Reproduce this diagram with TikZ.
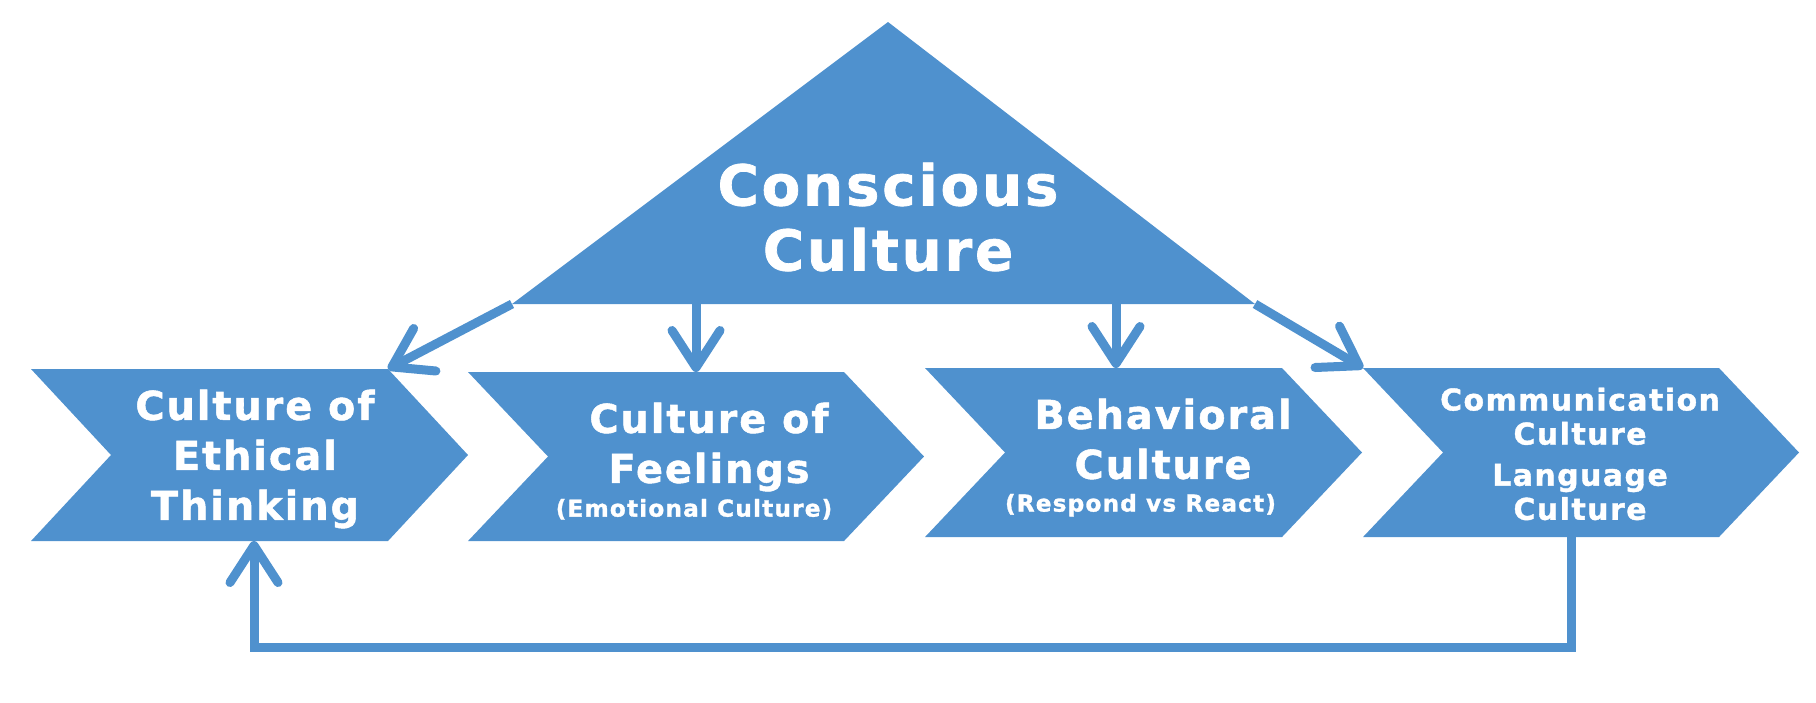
\documentclass[tikz,border=0pt]{standalone}
\usepackage{fontspec}
\newfontfamily\chevfont{DejaVu Sans}[LetterSpace=5,BoldFeatures={FakeBold=1.3}]
\usetikzlibrary{arrows.meta}
\definecolor{steel}{RGB}{79,145,206}

\begin{document}
\begin{tikzpicture}[x=0.01cm,y=-0.01cm,
  chev/.style={fill=steel},
  link/.style={draw=steel,line width=0.09cm},
  arr/.style={-{Straight Barb[round,length=0.37cm,width=0.48cm]}},
  txt/.style={text=white,inner sep=0,align=center,anchor=north},
  big/.style={font=\chevfont\bfseries\fontsize{11.3}{14.2}\selectfont},
  small/.style={font=\chevfont\bfseries\fontsize{8.5}{9.7}\selectfont}]
\useasboundingbox (0,0) rectangle (1816,702);

\fill[chev] (888,22) -- (1255,304) coordinate (cc-r) -- (512,304) coordinate (cc-l) -- cycle;
\coordinate (cc-f) at (696,304);
\coordinate (cc-b) at (1116,304);

\foreach \nm/\xl/\xr/\yt/\yb in {ethic/31/388/369/541,feel/468/844/372/541,behav/925/1282/368/537,comm/1363/1719/368/537}
  \fill[chev] (\xl,\yt) coordinate (\nm-tl) -- (\xr,\yt) coordinate (\nm-tr) -- (\xr+80,{(\yt+\yb)/2}) -- (\xr,\yb) -- (\xl,\yb) -- (\xl+80,{(\yt+\yb)/2}) -- cycle;

\node[txt,font=\chevfont\bfseries\fontsize{16}{18.5}\selectfont] (conscious) at (888,162) {Conscious\\Culture};
\node[txt,big] (ethic) at (255,389) {Culture of\\Ethical\\Thinking};
\node[txt,big] (feel) at (709,402) {Culture of\\Feelings\\[-4.6pt]{\fontsize{6.6}{8}\selectfont(Emotional Culture)\kern0.3cm}};
\node[txt,big] (behav) at (1163,398) {Behavioral\\Culture\\[-4.9pt]{\fontsize{6.6}{8}\selectfont(Respond vs React)\kern0.45cm}};
\node[txt,small] (comm) at (1580,387) {Communication\\Culture\\[2pt]Language\\Culture};

\draw[link,arr] (cc-l) -- (ethic-tr);
\draw[link,arr] (cc-f) -- (cc-f |- feel-tl);
\draw[link,arr] (cc-b) -- (cc-b |- behav-tl);
\draw[link,arr] (cc-r) -- (comm-tl);
\coordinate (comm-out) at (1571,537);
\coordinate (ethic-in) at (254,541);
\draw[link,arr] (comm-out) -- ++(0,110) -| (ethic-in);

\end{tikzpicture}
\end{document}
